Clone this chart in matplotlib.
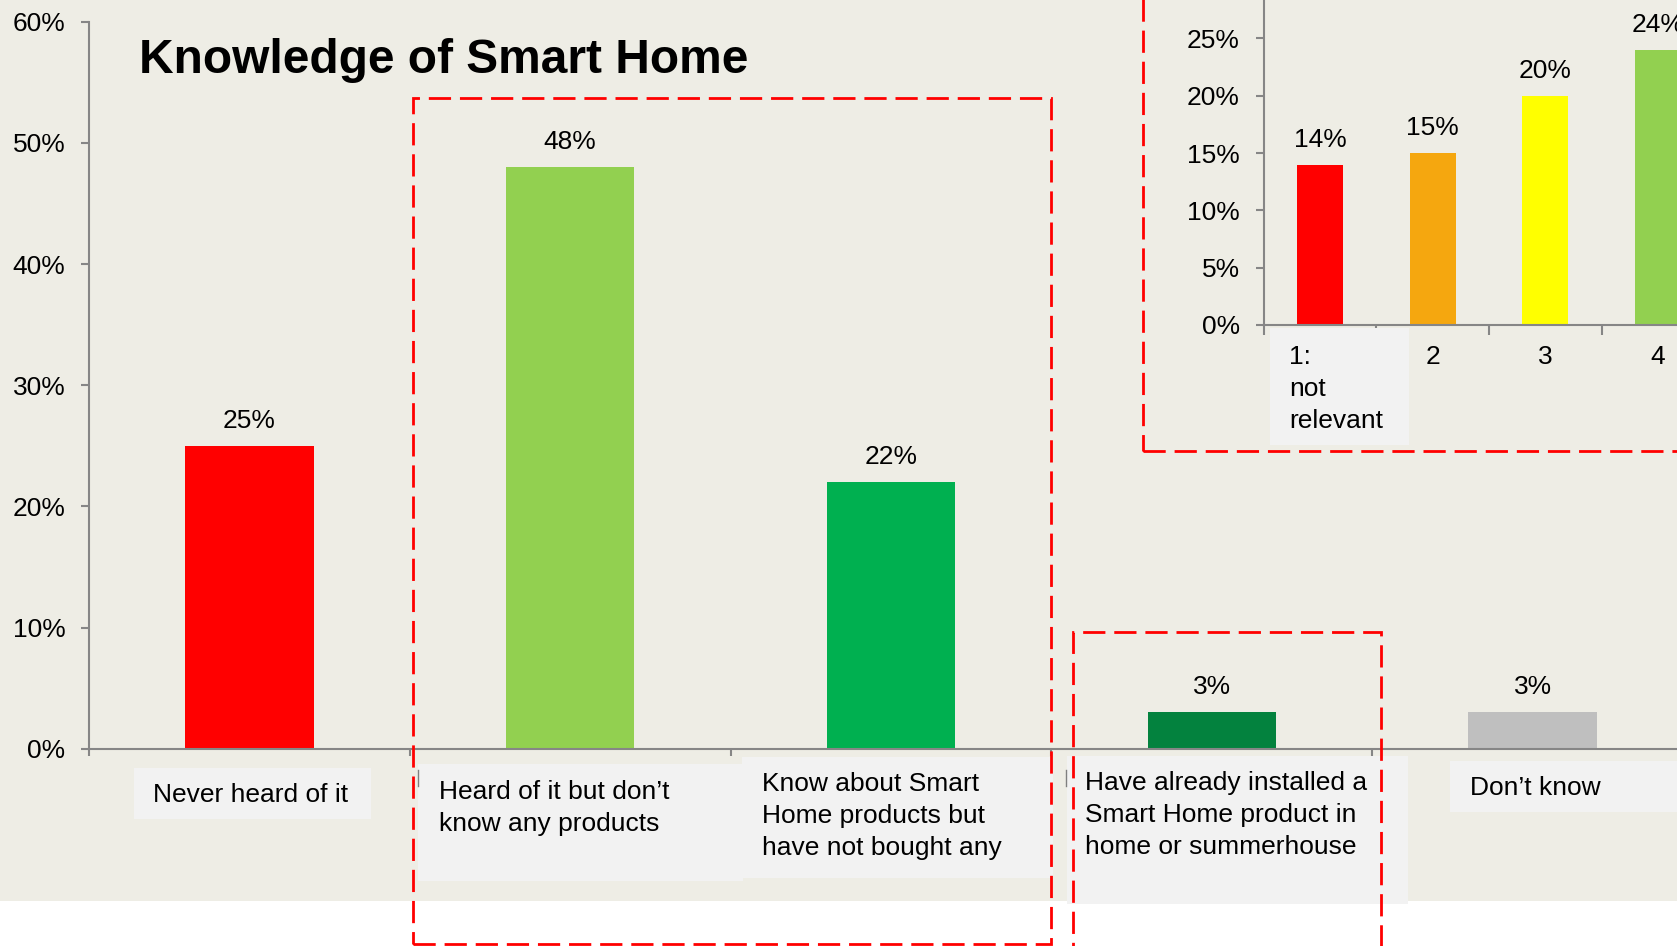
import matplotlib.pyplot as plt
from matplotlib.patches import Rectangle
from matplotlib.lines import Line2D
from matplotlib.ticker import FuncFormatter
from matplotlib.transforms import blended_transform_factory


# ------------------------------------------------------------
# data
# ------------------------------------------------------------

knowledge_cats = [
    "Never heard of it",
    "Heard of it but don\u2019t\nknow any products",
    "Know about Smart\nHome products but\nhave not bought any",
    "Have already installed a\nSmart Home product in\nhome or summerhouse",
    "Don\u2019t know",
]
knowledge_vals = [25, 48, 22, 3, 3]
knowledge_colors = ["#FF0000", "#92D050", "#00B050", "#03823E", "#BFBFBF"]

relevance_cats = ["1:\nnot\nrelevant", "2", "3", "4"]
relevance_vals = [14, 15, 20, 24]
relevance_colors = ["#FF0000", "#F5A70F", "#FFFF00", "#92D050"]


# ------------------------------------------------------------
# layout helpers (pixel positions of the slide)
# ------------------------------------------------------------

W, H = 1677, 946
BG = "#EEEDE5"
BOX = "#F2F2F2"
AXIS_GREY = "#868686"
FS = 19
LSP = 1.44

plt.rcParams["font.family"] = ["Liberation Sans", "DejaVu Sans"]


def fx(x):
    return x / W


def fy(y):
    return 1 - y / H


fig = plt.figure(figsize=(W / 100, H / 100), dpi=100)
fig.patch.set_facecolor("white")

# beige slide background, white strip at the bottom
fig.patches.append(Rectangle((0, fy(900.7)), 1, 1, transform=fig.transFigure,
                             facecolor=BG, edgecolor="none", zorder=-1))

pct = FuncFormatter(lambda v, _: f"{v:.0f}%")


def style_axis(ax):
    ax.patch.set_visible(False)
    for side in ["top", "right"]:
        ax.spines[side].set_visible(False)
    for side in ["left", "bottom"]:
        ax.spines[side].set_color(AXIS_GREY)
        ax.spines[side].set_linewidth(1.5)
    ax.yaxis.set_major_formatter(pct)
    ax.tick_params(axis="y", length=6, width=1.5, color=AXIS_GREY,
                   pad=11, labelsize=FS)
    ax.tick_params(axis="x", which="major", length=0, labelbottom=False)
    ax.tick_params(axis="x", which="minor", length=5, width=1.5,
                   color=AXIS_GREY)


# ------------------------------------------------------------
# main chart
# ------------------------------------------------------------

ax = fig.add_axes([fx(89), fy(748.7), fx(1604), 727 / H])
xs = range(len(knowledge_vals))
ax.bar(xs, knowledge_vals, width=0.4, color=knowledge_colors)
ax.set_xlim(-0.5, len(knowledge_vals) - 0.5)
ax.set_ylim(0, 60)
ax.set_yticks(range(0, 61, 10))
ax.set_xticks(list(xs))
ax.set_xticks([i - 0.5 for i in range(len(knowledge_vals) + 1)], minor=True)
style_axis(ax)

for i, v in enumerate(knowledge_vals):
    ax.annotate(f"{v}%", (i, v), xytext=(0, 18), textcoords="offset points",
                ha="center", va="center", fontsize=FS)

# grey label boxes under the bars
label_boxes = [(134, 768, 371, 819), (418, 764, 743, 881),
               (742, 757, 1053, 878), (1067, 756, 1408, 904),
               (1450, 761, 1700, 812)]
label_pos = [(153, 795), (439, 808), (762, 816), (1085, 815), (1470, 788)]

for (x0, y0, x1, y1), (tx, ty), txt in zip(label_boxes, label_pos, knowledge_cats):
    fig.patches.append(Rectangle((fx(x0), fy(y1)), fx(x1 - x0), (y1 - y0) / H,
                                 transform=fig.transFigure, facecolor=BOX,
                                 edgecolor="none", zorder=1))
    fig.text(fx(tx), fy(ty), txt, fontsize=FS, ha="left", va="center",
             linespacing=LSP, zorder=3)

# small cursor marks left over on the slide
for mx in [418, 1065.6]:
    fig.lines.append(Line2D([fx(mx), fx(mx)], [fy(770), fy(786)],
                            transform=fig.transFigure, color="#7F7F7F", lw=1))

fig.text(fx(139), fy(73), "Knowledge of Smart Home", fontsize=34.5,
         fontweight="bold", ha="left", va="baseline")


# ------------------------------------------------------------
# inset chart (cut off at the top right)
# ------------------------------------------------------------

ax2 = fig.add_axes([fx(1263.6), fy(325), fx(450.8), 343.8 / H])
xs2 = range(len(relevance_vals))
ax2.bar(xs2, relevance_vals, width=0.41, color=relevance_colors)
ax2.set_xlim(-0.5, len(relevance_vals) - 0.5)
ax2.set_ylim(0, 30)
ax2.set_yticks(range(0, 26, 5))
ax2.set_xticks(list(xs2))
ax2.set_xticks([i - 0.5 for i in range(len(relevance_vals) + 1)], minor=True)
style_axis(ax2)
ax2.tick_params(axis="x", which="minor", length=7)

for i, v in enumerate(relevance_vals):
    ax2.annotate(f"{v}%", (i, v), xytext=(0, 18), textcoords="offset points",
                 ha="center", va="center", fontsize=FS, annotation_clip=False)

fig.patches.append(Rectangle((fx(1269.5), fy(445)), fx(139.5), 117 / H,
                             transform=fig.transFigure, facecolor=BOX,
                             edgecolor="none", zorder=1))
fig.text(fx(1289), fy(389), relevance_cats[0], fontsize=FS, ha="left",
         va="center", linespacing=LSP, zorder=3)
trans = blended_transform_factory(ax2.transData, fig.transFigure)
for i, txt in enumerate(relevance_cats[1:], start=1):
    ax2.text(i, fy(357), txt, transform=trans, fontsize=FS, ha="center",
             va="center", clip_on=False)


# ------------------------------------------------------------
# red dashed highlight boxes
# ------------------------------------------------------------

red_boxes = [(413, 98, 1051, 944), (1073, 631.7, 1380.5, 960),
             (1143, -20, 1700, 450.7)]
for x0, y0, x1, y1 in red_boxes:
    fig.patches.append(Rectangle((fx(x0), fy(y1)), fx(x1 - x0), (y1 - y0) / H,
                                 transform=fig.transFigure, fill=False,
                                 edgecolor="#FF0000", lw=2,
                                 linestyle=(0, (8, 3.2)), zorder=4,
                                 clip_on=False))

fig.savefig("out.png", dpi=100)
